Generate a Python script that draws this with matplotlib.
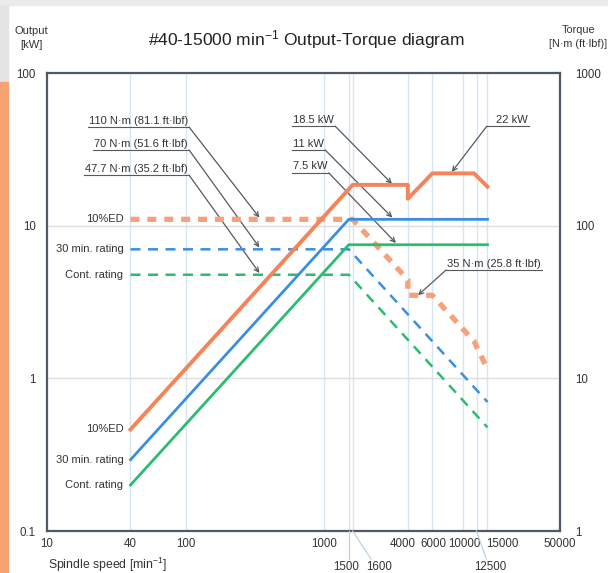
import matplotlib
matplotlib.use("Agg")
import matplotlib.pyplot as plt
import matplotlib.transforms as mtrans
from matplotlib.patches import Rectangle
from matplotlib.lines import Line2D

plt.rcParams['font.family'] = ['Liberation Sans', 'DejaVu Sans']
plt.rcParams['mathtext.fontset'] = 'custom'
plt.rcParams['mathtext.rm'] = 'Liberation Sans'
plt.rcParams['mathtext.it'] = 'Liberation Sans'

# ---------------- data ----------------
speed_cont = [40, 1500, 15000]
power_cont = [0.2, 7.5, 7.5]
speed_30 = [40, 1500, 15000]
power_30 = [0.293, 11, 11]
speed_ed = [40, 1600, 4000, 4000, 6000, 12000, 15000]
power_ed = [0.4625, 18.5, 18.5, 15, 22, 22, 18]

tq_speed_cont = [40, 1500, 15000]
torque_cont = [47.7, 47.7, 4.77]
tq_speed_30 = [40, 1500, 15000]
torque_30 = [70, 70, 7.0]
tq_speed_ed = [40, 1600, 4000, 4000, 6000, 12000, 15000]
torque_ed = [110, 110, 44.2, 35, 35, 17.5, 11.5]

xticks_main = [10, 40, 100, 1000, 4000, 6000, 10000, 15000, 50000]
xticks_low = [1500, 1600, 12500]
grid_x = [40, 100, 1000, 1500, 1600, 4000, 6000, 10000, 12500, 15000]
yticks_left = [0.1, 1, 10, 100]
ylabels_left = ['0.1', '1', '10', '100']
yticks_right = [1, 10, 100, 1000]
ylabels_right = ['1', '10', '100', '1000']

c_or = '#f4845a'
c_or_d = '#f7a07c'
c_bl = '#3b8fe0'
c_gr = '#2dbb70'
c_ann = '#555a60'
c_txt = '#333333'

fig = plt.figure(figsize=(6.08, 5.73), dpi=100)
W, H = 608, 573
# page decorations
fig.patches.append(Rectangle((0, 1 - 5 / H), 1, 5 / H, transform=fig.transFigure,
                             color='#ebebeb', zorder=-10))
fig.patches.append(Rectangle((0, 1 - 82 / H), 8 / W, 77 / H, transform=fig.transFigure,
                             color='#e4e4e4', zorder=-10))
fig.patches.append(Rectangle((0, 0), 8 / W, 1 - 82 / H, transform=fig.transFigure,
                             color='#f7a273', zorder=-10))

ax = fig.add_axes([47 / W, 1 - 531 / H, 513 / W, 458 / H])
ax.set_xscale('log')
ax.set_yscale('log')
ax.set_xlim(10, 50000)
ax.set_ylim(0.1, 100)
ax2 = ax.twinx()
ax2.set_yscale('log')
ax2.set_ylim(1, 1000)

for s in ax.spines.values():
    s.set_color('#4f5a64')
    s.set_linewidth(1.6)
for s in ax2.spines.values():
    s.set_visible(False)

# grid
for gx in grid_x:
    ax.axvline(gx, color='#d5e6f2', lw=1.0, zorder=0)
for gy in [1, 10]:
    ax.axhline(gy, color='#dedede', lw=1.0, zorder=0)

ax2.set_zorder(ax.get_zorder() + 1)
ax2.patch.set_visible(False)
# torque (dashed) on right axis [N·m]
ax2.plot(tq_speed_ed, torque_ed, color=c_or_d, lw=3.8, dashes=(1.7, 1.5), zorder=2)
ax2.plot(tq_speed_30, torque_30, color=c_bl, lw=1.8, dashes=(4, 3), zorder=2)
ax2.plot(tq_speed_cont, torque_cont, color=c_gr, lw=1.8, dashes=(4, 3), zorder=2)
# output (solid) [kW], drawn on the twin axis scaled to the left kW axis (1 kW = 10 units)
ax2.plot(speed_ed, [p * 10 for p in power_ed], color=c_or, lw=2.8, zorder=3)
ax2.plot(speed_30, [p * 10 for p in power_30], color=c_bl, lw=2.0, zorder=3)
ax2.plot(speed_cont, [p * 10 for p in power_cont], color=c_gr, lw=2.0, zorder=3)

# ticks
ax.set_xticks(xticks_main)
ax.set_xticklabels([])
ax.xaxis.set_minor_locator(matplotlib.ticker.NullLocator())
ax.set_yticks(yticks_left)
ax.set_yticklabels(ylabels_left)
ax.yaxis.set_minor_locator(matplotlib.ticker.NullLocator())
ax2.set_yticks(yticks_right)
ax2.set_yticklabels(ylabels_right)
ax2.yaxis.set_minor_locator(matplotlib.ticker.NullLocator())
ax.tick_params(axis='both', length=0, labelsize=8.3, colors=c_txt)
ax.tick_params(axis='y', pad=8)
ax2.tick_params(axis='y', length=0, labelsize=8.3, colors=c_txt, pad=11)

# x labels drawn as text with small pixel offsets
bt = mtrans.blended_transform_factory(ax.transData, ax.transAxes)
main_dx = {10: 0, 40: 0, 100: 0, 1000: 0, 4000: -5, 6000: 1, 10000: 1, 15000: 15, 50000: 0}
for v in xticks_main:
    tr = mtrans.offset_copy(bt, fig=fig, x=main_dx[v], y=-13, units='dots')
    ax.text(v, 0, str(v), transform=tr, ha='center', va='center', fontsize=8.3,
            color=c_txt, clip_on=False)
low_dx = {1500: -3, 1600: 26, 12500: 14}
for v in xticks_low:
    tr = mtrans.offset_copy(bt, fig=fig, x=low_dx[v], y=-36, units='dots')
    ax.text(v, 0, str(v), transform=tr, ha='center', va='center', fontsize=8.3,
            color=c_txt, clip_on=False)
    tr2 = mtrans.offset_copy(bt, fig=fig, x=low_dx[v] * 0.7 if v != 1500 else 0,
                             y=-28, units='dots')
    x_end, y_end = tr2.transform((v, 0))
    x_sta, y_sta = bt.transform((v, 0))
    fig.add_artist(Line2D([x_sta, x_end], [y_sta, y_end], transform=None,
                          color='#b9d3e6', lw=0.9))

# rating labels
lab_x = 35.5
for txt, yv in [('10%ED', 11), ('30 min. rating', 7.0), ('Cont. rating', 4.77),
                ('10%ED', 0.4625), ('30 min. rating', 0.293), ('Cont. rating', 0.2)]:
    ax.text(lab_x, yv, txt, ha='right', va='center', fontsize=8, color=c_txt, zorder=5)

# annotations: text, underline anchor (axes fraction), ha, arrow start side, tip (data)
annots = [
    ('110 N·m (81.1 ft·lbf)', 0.275, 0.882, 'right', 'right', (340, 11.3)),
    ('70 N·m (51.6 ft·lbf)', 0.275, 0.832, 'right', 'right', (340, 7.2)),
    ('47.7 N·m (35.2 ft·lbf)', 0.275, 0.777, 'right', 'right', (340, 4.9)),
    ('18.5 kW', 0.48, 0.884, 'left', 'right', (3070, 18.8)),
    ('11 kW', 0.48, 0.832, 'left', 'right', (3090, 11.3)),
    ('7.5 kW', 0.48, 0.782, 'left', 'right', (3280, 7.7)),
    ('22 kW', 0.875, 0.884, 'left', 'left', (8300, 22.5)),
    ('35 N·m (25.8 ft·lbf)', 0.78, 0.570, 'left', 'left', (4730, 3.5)),
]
texts = []
for txt, fx, fy, ha, side, tip in annots:
    t = ax.text(fx, fy + 0.003, txt, transform=ax.transAxes, ha=ha, va='bottom',
                fontsize=8, color=c_txt, zorder=6)
    texts.append((t, fx, fy, ha, side, tip))

fig.canvas.draw()
r = fig.canvas.get_renderer()
inv = ax.transAxes.inverted()
for t, fx, fy, ha, side, tip in texts:
    bb = t.get_window_extent(r)
    x0 = inv.transform((bb.x0 - 1, bb.y0))[0]
    x1 = inv.transform((bb.x1 + 1, bb.y0))[0]
    if t.get_text() == '22 kW':
        x0 = inv.transform((bb.x0 - 9, bb.y0))[0]
    ax.add_line(Line2D([x0, x1], [fy, fy], transform=ax.transAxes,
                       color=c_ann, lw=0.8, zorder=6))
    sx = x1 if side == 'right' else x0
    ax.annotate('', xy=tip, xycoords='data', xytext=(sx, fy), textcoords='axes fraction',
                arrowprops=dict(arrowstyle='->', color=c_ann, lw=0.9,
                                shrinkA=0, shrinkB=0, mutation_scale=8), zorder=6)

# titles and axis labels
fig.text(306 / W, 1 - 40 / H, r'#40-15000 min$^{\mathregular{-1}}$ Output-Torque diagram',
         ha='center', va='center', fontsize=12.5, color='#222222')
fig.text(31 / W, 1 - 38 / H, 'Output\n[kW]', ha='center', va='center', fontsize=8,
         color=c_txt, linespacing=1.45)
fig.text(578 / W, 1 - 37 / H, 'Torque\n[N·m (ft·lbf)]', ha='center', va='center',
         fontsize=7.8, color=c_txt, linespacing=1.45)
fig.text(48 / W, 1 - 565 / H, r'Spindle speed [min$^{\mathregular{-1}}$]', ha='left',
         va='center', fontsize=8.8, color=c_txt)

fig.savefig('out.png', dpi=100)
